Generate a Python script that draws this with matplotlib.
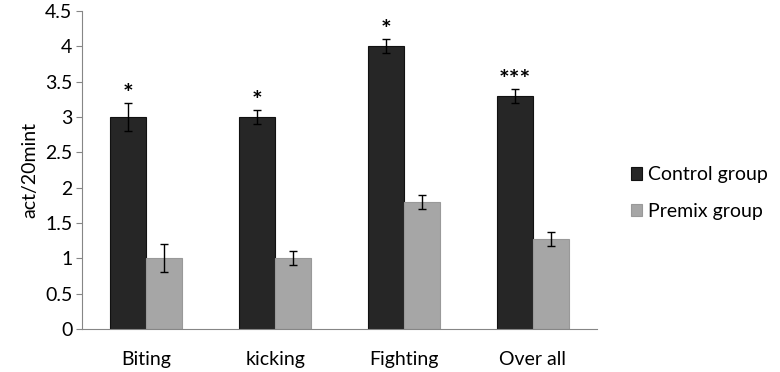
import matplotlib.pyplot as plt
import numpy as np

plt.rcParams['font.family'] = ['Lato', 'DejaVu Sans']

categories = ['Biting', 'kicking', 'Fighting', 'Over all']
control = [3.0, 3.0, 4.0, 3.3]
control_err = [0.2, 0.1, 0.1, 0.1]
premix = [1.0, 1.0, 1.8, 1.27]
premix_err = [0.2, 0.1, 0.1, 0.1]
stars = ['*', '*', '*', '***']

fig = plt.figure(figsize=(7.8, 3.72), dpi=100)
ax = fig.add_axes([82 / 780, 1 - 329 / 372, 515 / 780, 318 / 372])

x = np.arange(len(categories))
w = 0.28
ax.bar(x - w / 2, control, w, yerr=control_err, color='#262626', edgecolor='#111111',
       linewidth=0.8, capsize=3, error_kw=dict(elinewidth=1, capthick=1, ecolor='black'),
       label='Control group')
ax.bar(x + w / 2, premix, w, yerr=premix_err, color='#a6a6a6', edgecolor='#999999',
       linewidth=0.8, capsize=3, error_kw=dict(elinewidth=1, capthick=1, ecolor='black'),
       label='Premix group')

for i in range(len(categories)):
    ax.text(x[i] - w / 2, control[i] + control_err[i] + 0.12, stars[i], ha='center',
            va='center', fontsize=18, fontweight='bold')

ax.set_xlim(-0.5, len(categories) - 0.5)
ax.set_ylim(0, 4.5)
ax.set_yticks(np.arange(0, 4.51, 0.5))
ax.set_yticklabels(['0', '0.5', '1', '1.5', '2', '2.5', '3', '3.5', '4', '4.5'])
ax.set_xticks(x)
ax.set_xticklabels(categories)
ax.tick_params(axis='x', length=0, pad=16, labelsize=14)
ax.tick_params(axis='y', length=4, color='#868686', labelsize=14, pad=3)
ax.set_ylabel('act/20mint', fontsize=14, labelpad=5)

for s in ['top', 'right']:
    ax.spines[s].set_visible(False)
for s in ['left', 'bottom']:
    ax.spines[s].set_color('#868686')

ax.legend(loc='center left', bbox_to_anchor=(1.05, (329 - 193) / 318), frameon=False,
          fontsize=14, handlelength=0.6, handleheight=0.6, handletextpad=0.3,
          labelspacing=1.0, borderaxespad=0)

fig.savefig('out.png', dpi=100)
